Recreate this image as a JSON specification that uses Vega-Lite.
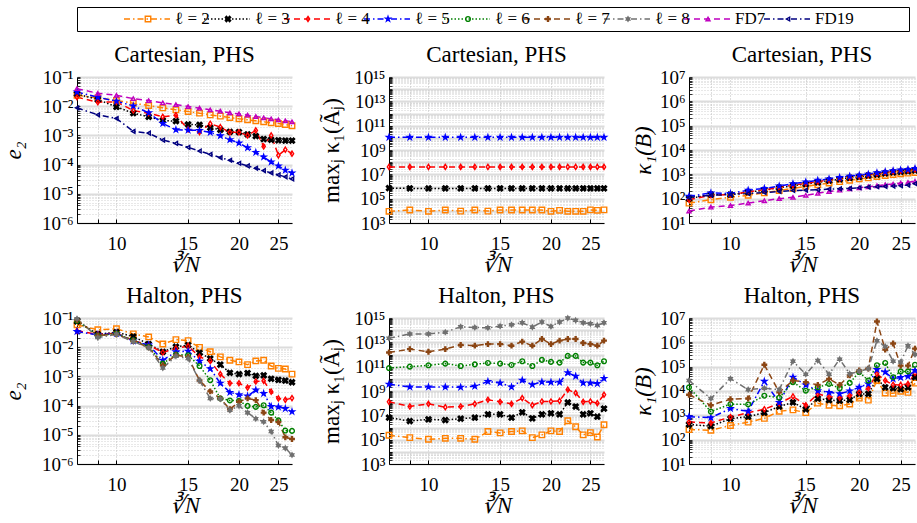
{
"$schema":"https://vega.github.io/schema/vega-lite/v6.json",
"background":"white",
"padding":{"left":2,"right":2,"top":6,"bottom":2},
"spacing":12,
"config":{
 "font":"Liberation Serif",
 "view":{"stroke":null},
 "axis":{"labelFont":"Liberation Serif","labelFontSize":19,"titleFont":"Liberation Serif","titleFontSize":23,"titleFontWeight":"normal","labelColor":"black","titleColor":"black","domainColor":"black","tickColor":"black","labelOverlap":false,"labelFlush":false},
 "title":{"font":"Liberation Serif","fontSize":23,"fontWeight":"normal","color":"black","offset":1}
},
"datasets":{
"leg":[{"s":"ℓ = 2"},{"s":"ℓ = 3"},{"s":"ℓ = 4"},{"s":"ℓ = 5"},{"s":"ℓ = 6"},{"s":"ℓ = 7"},{"s":"ℓ = 8"},{"s":"FD7"},{"s":"FD19"}],
"p1":[
{"s":"ℓ = 2","n":8,"v":0.0237},{"s":"ℓ = 2","n":9,"v":0.0192},{"s":"ℓ = 2","n":10,"v":0.0156},{"s":"ℓ = 2","n":11,"v":0.01265},{"s":"ℓ = 2","n":12,"v":0.01054},{"s":"ℓ = 2","n":13,"v":0.00878},{"s":"ℓ = 2","n":14,"v":0.0075},{"s":"ℓ = 2","n":15,"v":0.00658},{"s":"ℓ = 2","n":16,"v":0.00577},{"s":"ℓ = 2","n":17,"v":0.00506},{"s":"ℓ = 2","n":18,"v":0.00456},{"s":"ℓ = 2","n":19,"v":0.00411},{"s":"ℓ = 2","n":20,"v":0.0037},{"s":"ℓ = 2","n":21,"v":0.00342},{"s":"ℓ = 2","n":22,"v":0.00316},{"s":"ℓ = 2","n":23,"v":0.00292},{"s":"ℓ = 2","n":24,"v":0.0027},{"s":"ℓ = 2","n":25,"v":0.00256},{"s":"ℓ = 2","n":26,"v":0.00237},{"s":"ℓ = 2","n":27,"v":0.00214},
{"s":"ℓ = 3","n":8,"v":0.0263},{"s":"ℓ = 3","n":9,"v":0.01687},{"s":"ℓ = 3","n":10,"v":0.0095},{"s":"ℓ = 3","n":11,"v":0.00577},{"s":"ℓ = 3","n":12,"v":0.00433},{"s":"ℓ = 3","n":13,"v":0.00324},{"s":"ℓ = 3","n":14,"v":0.00308},{"s":"ℓ = 3","n":15,"v":0.00237},{"s":"ℓ = 3","n":16,"v":0.00231},{"s":"ℓ = 3","n":17,"v":0.00183},{"s":"ℓ = 3","n":18,"v":0.00156},{"s":"ℓ = 3","n":19,"v":0.00133},{"s":"ℓ = 3","n":20,"v":0.0013},{"s":"ℓ = 3","n":21,"v":0.00108},{"s":"ℓ = 3","n":22,"v":0.00095},{"s":"ℓ = 3","n":23,"v":0.00075},{"s":"ℓ = 3","n":24,"v":0.00071},{"s":"ℓ = 3","n":25,"v":0.00068},{"s":"ℓ = 3","n":26,"v":0.00066},{"s":"ℓ = 3","n":27,"v":0.00066},
{"s":"ℓ = 4","n":8,"v":0.0203},{"s":"ℓ = 4","n":9,"v":0.01369},{"s":"ℓ = 4","n":10,"v":0.0141},{"s":"ℓ = 4","n":11,"v":0.00711},{"s":"ℓ = 4","n":12,"v":0.00577},{"s":"ℓ = 4","n":13,"v":0.00433},{"s":"ℓ = 4","n":14,"v":0.00493},{"s":"ℓ = 4","n":15,"v":0.0016},{"s":"ℓ = 4","n":16,"v":0.0013},{"s":"ℓ = 4","n":17,"v":0.0025},{"s":"ℓ = 4","n":18,"v":0.00192},{"s":"ℓ = 4","n":19,"v":0.00127},{"s":"ℓ = 4","n":20,"v":0.00127},{"s":"ℓ = 4","n":21,"v":0.001},{"s":"ℓ = 4","n":22,"v":0.00148},{"s":"ℓ = 4","n":23,"v":0.00042},{"s":"ℓ = 4","n":24,"v":0.001},{"s":"ℓ = 4","n":25,"v":0.000208},{"s":"ℓ = 4","n":26,"v":0.000325},{"s":"ℓ = 4","n":27,"v":0.000237},
{"s":"ℓ = 5","n":8,"v":0.0308},{"s":"ℓ = 5","n":9,"v":0.0203},{"s":"ℓ = 5","n":10,"v":0.0148},{"s":"ℓ = 5","n":11,"v":0.01025},{"s":"ℓ = 5","n":12,"v":0.00593},{"s":"ℓ = 5","n":13,"v":0.00256},{"s":"ℓ = 5","n":14,"v":0.00156},{"s":"ℓ = 5","n":15,"v":0.00152},{"s":"ℓ = 5","n":16,"v":0.00148},{"s":"ℓ = 5","n":17,"v":0.00127},{"s":"ℓ = 5","n":18,"v":0.00097},{"s":"ℓ = 5","n":19,"v":0.00071},{"s":"ℓ = 5","n":20,"v":0.000548},{"s":"ℓ = 5","n":21,"v":0.00038},{"s":"ℓ = 5","n":22,"v":0.000263},{"s":"ℓ = 5","n":23,"v":0.000182},{"s":"ℓ = 5","n":24,"v":0.000123},{"s":"ℓ = 5","n":25,"v":0.00009},{"s":"ℓ = 5","n":26,"v":0.000064},{"s":"ℓ = 5","n":27,"v":0.000052},
{"s":"FD7","n":8,"v":0.04},{"s":"FD7","n":9,"v":0.0277},{"s":"FD7","n":10,"v":0.0237},{"s":"FD7","n":11,"v":0.0182},{"s":"FD7","n":12,"v":0.0156},{"s":"FD7","n":13,"v":0.013},{"s":"FD7","n":14,"v":0.0114},{"s":"FD7","n":15,"v":0.00975},{"s":"FD7","n":16,"v":0.00855},{"s":"FD7","n":17,"v":0.0075},{"s":"FD7","n":18,"v":0.00676},{"s":"FD7","n":19,"v":0.00593},{"s":"FD7","n":20,"v":0.00548},{"s":"FD7","n":21,"v":0.00493},{"s":"FD7","n":22,"v":0.00444},{"s":"FD7","n":23,"v":0.004},{"s":"FD7","n":24,"v":0.0037},{"s":"FD7","n":25,"v":0.00342},{"s":"FD7","n":26,"v":0.00316},{"s":"FD7","n":27,"v":0.00292},
{"s":"FD19","n":8,"v":0.00877},{"s":"FD19","n":9,"v":0.00507},{"s":"FD19","n":10,"v":0.0038},{"s":"FD19","n":11,"v":0.00137},{"s":"FD19","n":12,"v":0.0012},{"s":"FD19","n":13,"v":0.000693},{"s":"FD19","n":14,"v":0.000533},{"s":"FD19","n":15,"v":0.00039},{"s":"FD19","n":16,"v":0.000292},{"s":"FD19","n":17,"v":0.000225},{"s":"FD19","n":18,"v":0.000173},{"s":"FD19","n":19,"v":0.000141},{"s":"FD19","n":20,"v":0.000111},{"s":"FD19","n":21,"v":0.00009},{"s":"FD19","n":22,"v":0.000075},{"s":"FD19","n":23,"v":0.0000624},{"s":"FD19","n":24,"v":0.000052},{"s":"FD19","n":25,"v":0.0000444},{"s":"FD19","n":26,"v":0.000038},{"s":"FD19","n":27,"v":0.0000324}
],
"p2":[
{"s":"ℓ = 2","n":8,"v":9100},{"s":"ℓ = 2","n":9,"v":11700},{"s":"ℓ = 2","n":10,"v":9100},{"s":"ℓ = 2","n":11,"v":11700},{"s":"ℓ = 2","n":12,"v":9500},{"s":"ℓ = 2","n":13,"v":11700},{"s":"ℓ = 2","n":14,"v":9500},{"s":"ℓ = 2","n":15,"v":11700},{"s":"ℓ = 2","n":16,"v":11700},{"s":"ℓ = 2","n":17,"v":11700},{"s":"ℓ = 2","n":18,"v":11700},{"s":"ℓ = 2","n":19,"v":11700},{"s":"ℓ = 2","n":20,"v":9100},{"s":"ℓ = 2","n":21,"v":11000},{"s":"ℓ = 2","n":22,"v":9100},{"s":"ℓ = 2","n":23,"v":9100},{"s":"ℓ = 2","n":24,"v":9100},{"s":"ℓ = 2","n":25,"v":12000},{"s":"ℓ = 2","n":26,"v":11000},{"s":"ℓ = 2","n":27,"v":12000},
{"s":"ℓ = 3","n":8,"v":730000},{"s":"ℓ = 3","n":9,"v":700000},{"s":"ℓ = 3","n":10,"v":690000},{"s":"ℓ = 3","n":11,"v":700000},{"s":"ℓ = 3","n":12,"v":700000},{"s":"ℓ = 3","n":13,"v":700000},{"s":"ℓ = 3","n":14,"v":700000},{"s":"ℓ = 3","n":15,"v":700000},{"s":"ℓ = 3","n":16,"v":700000},{"s":"ℓ = 3","n":17,"v":700000},{"s":"ℓ = 3","n":18,"v":700000},{"s":"ℓ = 3","n":19,"v":700000},{"s":"ℓ = 3","n":20,"v":700000},{"s":"ℓ = 3","n":21,"v":700000},{"s":"ℓ = 3","n":22,"v":700000},{"s":"ℓ = 3","n":23,"v":700000},{"s":"ℓ = 3","n":24,"v":700000},{"s":"ℓ = 3","n":25,"v":700000},{"s":"ℓ = 3","n":26,"v":700000},{"s":"ℓ = 3","n":27,"v":700000},
{"s":"ℓ = 4","n":8,"v":41000000},{"s":"ℓ = 4","n":9,"v":41000000},{"s":"ℓ = 4","n":10,"v":41000000},{"s":"ℓ = 4","n":11,"v":41000000},{"s":"ℓ = 4","n":12,"v":41000000},{"s":"ℓ = 4","n":13,"v":41000000},{"s":"ℓ = 4","n":14,"v":41000000},{"s":"ℓ = 4","n":15,"v":41000000},{"s":"ℓ = 4","n":16,"v":41000000},{"s":"ℓ = 4","n":17,"v":41000000},{"s":"ℓ = 4","n":18,"v":41000000},{"s":"ℓ = 4","n":19,"v":41000000},{"s":"ℓ = 4","n":20,"v":41000000},{"s":"ℓ = 4","n":21,"v":41000000},{"s":"ℓ = 4","n":22,"v":41000000},{"s":"ℓ = 4","n":23,"v":41000000},{"s":"ℓ = 4","n":24,"v":41000000},{"s":"ℓ = 4","n":25,"v":41000000},{"s":"ℓ = 4","n":26,"v":41000000},{"s":"ℓ = 4","n":27,"v":41000000},
{"s":"ℓ = 5","n":8,"v":11000000000},{"s":"ℓ = 5","n":9,"v":11000000000},{"s":"ℓ = 5","n":10,"v":11000000000},{"s":"ℓ = 5","n":11,"v":11000000000},{"s":"ℓ = 5","n":12,"v":11000000000},{"s":"ℓ = 5","n":13,"v":11000000000},{"s":"ℓ = 5","n":14,"v":11000000000},{"s":"ℓ = 5","n":15,"v":11000000000},{"s":"ℓ = 5","n":16,"v":11000000000},{"s":"ℓ = 5","n":17,"v":11000000000},{"s":"ℓ = 5","n":18,"v":11000000000},{"s":"ℓ = 5","n":19,"v":11000000000},{"s":"ℓ = 5","n":20,"v":11000000000},{"s":"ℓ = 5","n":21,"v":11000000000},{"s":"ℓ = 5","n":22,"v":11000000000},{"s":"ℓ = 5","n":23,"v":11000000000},{"s":"ℓ = 5","n":24,"v":11000000000},{"s":"ℓ = 5","n":25,"v":11000000000},{"s":"ℓ = 5","n":26,"v":11000000000},{"s":"ℓ = 5","n":27,"v":11000000000}
],
"p3":[
{"s":"ℓ = 2","n":8,"v":65.8},{"s":"ℓ = 2","n":9,"v":90.7},{"s":"ℓ = 2","n":10,"v":114},{"s":"ℓ = 2","n":11,"v":138},{"s":"ℓ = 2","n":12,"v":173},{"s":"ℓ = 2","n":13,"v":217},{"s":"ℓ = 2","n":14,"v":263},{"s":"ℓ = 2","n":15,"v":319},{"s":"ℓ = 2","n":16,"v":374},{"s":"ℓ = 2","n":17,"v":440},{"s":"ℓ = 2","n":18,"v":500},{"s":"ℓ = 2","n":19,"v":569},{"s":"ℓ = 2","n":20,"v":647},{"s":"ℓ = 2","n":21,"v":713},{"s":"ℓ = 2","n":22,"v":811},{"s":"ℓ = 2","n":23,"v":894},{"s":"ℓ = 2","n":24,"v":984},{"s":"ℓ = 2","n":25,"v":1049},{"s":"ℓ = 2","n":26,"v":1119},{"s":"ℓ = 2","n":27,"v":1194},
{"s":"ℓ = 3","n":8,"v":100},{"s":"ℓ = 3","n":9,"v":147},{"s":"ℓ = 3","n":10,"v":147},{"s":"ℓ = 3","n":11,"v":184},{"s":"ℓ = 3","n":12,"v":224},{"s":"ℓ = 3","n":13,"v":281},{"s":"ℓ = 3","n":14,"v":340},{"s":"ℓ = 3","n":15,"v":399},{"s":"ℓ = 3","n":16,"v":469},{"s":"ℓ = 3","n":17,"v":551},{"s":"ℓ = 3","n":18,"v":627},{"s":"ℓ = 3","n":19,"v":713},{"s":"ℓ = 3","n":20,"v":785},{"s":"ℓ = 3","n":21,"v":894},{"s":"ℓ = 3","n":22,"v":984},{"s":"ℓ = 3","n":23,"v":1084},{"s":"ℓ = 3","n":24,"v":1194},{"s":"ℓ = 3","n":25,"v":1274},{"s":"ℓ = 3","n":26,"v":1358},{"s":"ℓ = 3","n":27,"v":1449},
{"s":"ℓ = 4","n":8,"v":90.7},{"s":"ℓ = 4","n":9,"v":138},{"s":"ℓ = 4","n":10,"v":147},{"s":"ℓ = 4","n":11,"v":190},{"s":"ℓ = 4","n":12,"v":231},{"s":"ℓ = 4","n":13,"v":290},{"s":"ℓ = 4","n":14,"v":362},{"s":"ℓ = 4","n":15,"v":426},{"s":"ℓ = 4","n":16,"v":500},{"s":"ℓ = 4","n":17,"v":587},{"s":"ℓ = 4","n":18,"v":668},{"s":"ℓ = 4","n":19,"v":760},{"s":"ℓ = 4","n":20,"v":837},{"s":"ℓ = 4","n":21,"v":952},{"s":"ℓ = 4","n":22,"v":1084},{"s":"ℓ = 4","n":23,"v":1194},{"s":"ℓ = 4","n":24,"v":1315},{"s":"ℓ = 4","n":25,"v":1403},{"s":"ℓ = 4","n":26,"v":1496},{"s":"ℓ = 4","n":27,"v":1596},
{"s":"ℓ = 5","n":8,"v":125},{"s":"ℓ = 5","n":9,"v":173},{"s":"ℓ = 5","n":10,"v":162},{"s":"ℓ = 5","n":11,"v":224},{"s":"ℓ = 5","n":12,"v":263},{"s":"ℓ = 5","n":13,"v":329},{"s":"ℓ = 5","n":14,"v":412},{"s":"ℓ = 5","n":15,"v":484},{"s":"ℓ = 5","n":16,"v":569},{"s":"ℓ = 5","n":17,"v":647},{"s":"ℓ = 5","n":18,"v":736},{"s":"ℓ = 5","n":19,"v":837},{"s":"ℓ = 5","n":20,"v":923},{"s":"ℓ = 5","n":21,"v":1017},{"s":"ℓ = 5","n":22,"v":1156},{"s":"ℓ = 5","n":23,"v":1274},{"s":"ℓ = 5","n":24,"v":1403},{"s":"ℓ = 5","n":25,"v":1496},{"s":"ℓ = 5","n":26,"v":1596},{"s":"ℓ = 5","n":27,"v":1758},
{"s":"FD7","n":8,"v":31},{"s":"FD7","n":9,"v":44.7},{"s":"FD7","n":10,"v":52.5},{"s":"FD7","n":11,"v":65.8},{"s":"FD7","n":12,"v":82.4},{"s":"FD7","n":13,"v":100},{"s":"FD7","n":14,"v":114},{"s":"FD7","n":15,"v":138},{"s":"FD7","n":16,"v":167},{"s":"FD7","n":17,"v":197},{"s":"FD7","n":18,"v":224},{"s":"FD7","n":19,"v":255},{"s":"FD7","n":20,"v":281},{"s":"FD7","n":21,"v":309},{"s":"FD7","n":22,"v":340},{"s":"FD7","n":23,"v":374},{"s":"FD7","n":24,"v":399},{"s":"FD7","n":25,"v":440},{"s":"FD7","n":26,"v":469},{"s":"FD7","n":27,"v":516},
{"s":"FD19","n":8,"v":114},{"s":"FD19","n":9,"v":138},{"s":"FD19","n":10,"v":147},{"s":"FD19","n":11,"v":162},{"s":"FD19","n":12,"v":179},{"s":"FD19","n":13,"v":197},{"s":"FD19","n":14,"v":217},{"s":"FD19","n":15,"v":224},{"s":"FD19","n":16,"v":231},{"s":"FD19","n":17,"v":247},{"s":"FD19","n":18,"v":255},{"s":"FD19","n":19,"v":263},{"s":"FD19","n":20,"v":281},{"s":"FD19","n":21,"v":299},{"s":"FD19","n":22,"v":309},{"s":"FD19","n":23,"v":319},{"s":"FD19","n":24,"v":329},{"s":"FD19","n":25,"v":340},{"s":"FD19","n":26,"v":362},{"s":"FD19","n":27,"v":412}
],
"p4":[
{"s":"ℓ = 2","n":8,"v":0.0587},{"s":"ℓ = 2","n":9,"v":0.0394},{"s":"ℓ = 2","n":10,"v":0.0427},{"s":"ℓ = 2","n":11,"v":0.0286},{"s":"ℓ = 2","n":12,"v":0.0225},{"s":"ℓ = 2","n":13,"v":0.01285},{"s":"ℓ = 2","n":14,"v":0.01815},{"s":"ℓ = 2","n":15,"v":0.0168},{"s":"ℓ = 2","n":16,"v":0.00984},{"s":"ℓ = 2","n":17,"v":0.00697},{"s":"ℓ = 2","n":18,"v":0.00467},{"s":"ℓ = 2","n":19,"v":0.00357},{"s":"ℓ = 2","n":20,"v":0.00313},{"s":"ℓ = 2","n":21,"v":0.00253},{"s":"ℓ = 2","n":22,"v":0.00339},{"s":"ℓ = 2","n":23,"v":0.00357},{"s":"ℓ = 2","n":24,"v":0.00227},{"s":"ℓ = 2","n":25,"v":0.00188},{"s":"ℓ = 2","n":26,"v":0.00179},{"s":"ℓ = 2","n":27,"v":0.0012},
{"s":"ℓ = 3","n":8,"v":0.0766},{"s":"ℓ = 3","n":9,"v":0.0278},{"s":"ℓ = 3","n":10,"v":0.0326},{"s":"ℓ = 3","n":11,"v":0.0231},{"s":"ℓ = 3","n":12,"v":0.01285},{"s":"ℓ = 3","n":13,"v":0.00697},{"s":"ℓ = 3","n":14,"v":0.01038},{"s":"ℓ = 3","n":15,"v":0.01186},{"s":"ℓ = 3","n":16,"v":0.00643},{"s":"ℓ = 3","n":17,"v":0.00408},{"s":"ℓ = 3","n":18,"v":0.00253},{"s":"ℓ = 3","n":19,"v":0.00133},{"s":"ℓ = 3","n":20,"v":0.0012},{"s":"ℓ = 3","n":21,"v":0.0013},{"s":"ℓ = 3","n":22,"v":0.00105},{"s":"ℓ = 3","n":23,"v":0.00108},{"s":"ℓ = 3","n":24,"v":0.00083},{"s":"ℓ = 3","n":25,"v":0.00076},{"s":"ℓ = 3","n":26,"v":0.00072},{"s":"ℓ = 3","n":27,"v":0.00063},
{"s":"ℓ = 4","n":8,"v":0.0363},{"s":"ℓ = 4","n":9,"v":0.0278},{"s":"ℓ = 4","n":10,"v":0.0302},{"s":"ℓ = 4","n":11,"v":0.0168},{"s":"ℓ = 4","n":12,"v":0.01186},{"s":"ℓ = 4","n":13,"v":0.0066},{"s":"ℓ = 4","n":14,"v":0.00908},{"s":"ℓ = 4","n":15,"v":0.01094},{"s":"ℓ = 4","n":16,"v":0.00467},{"s":"ℓ = 4","n":17,"v":0.00339},{"s":"ℓ = 4","n":18,"v":0.0012},{"s":"ℓ = 4","n":19,"v":0.000583},{"s":"ℓ = 4","n":20,"v":0.000583},{"s":"ℓ = 4","n":21,"v":0.000413},{"s":"ℓ = 4","n":22,"v":0.000667},{"s":"ℓ = 4","n":23,"v":0.000703},{"s":"ℓ = 4","n":24,"v":0.0003},{"s":"ℓ = 4","n":25,"v":0.000176},{"s":"ℓ = 4","n":26,"v":0.000158},{"s":"ℓ = 4","n":27,"v":0.000181},
{"s":"ℓ = 5","n":8,"v":0.0344},{"s":"ℓ = 5","n":9,"v":0.0264},{"s":"ℓ = 5","n":10,"v":0.0294},{"s":"ℓ = 5","n":11,"v":0.0163},{"s":"ℓ = 5","n":12,"v":0.01186},{"s":"ℓ = 5","n":13,"v":0.00357},{"s":"ℓ = 5","n":14,"v":0.00697},{"s":"ℓ = 5","n":15,"v":0.00735},{"s":"ℓ = 5","n":16,"v":0.0033},{"s":"ℓ = 5","n":17,"v":0.00184},{"s":"ℓ = 5","n":18,"v":0.000583},{"s":"ℓ = 5","n":19,"v":0.000284},{"s":"ℓ = 5","n":20,"v":0.000236},{"s":"ℓ = 5","n":21,"v":0.000212},{"s":"ℓ = 5","n":22,"v":0.000343},{"s":"ℓ = 5","n":23,"v":0.000262},{"s":"ℓ = 5","n":24,"v":0.000093},{"s":"ℓ = 5","n":25,"v":0.0000904},{"s":"ℓ = 5","n":26,"v":0.0000791},{"s":"ℓ = 5","n":27,"v":0.0000622},
{"s":"ℓ = 6","n":8,"v":0.0807},{"s":"ℓ = 6","n":9,"v":0.025},{"s":"ℓ = 6","n":10,"v":0.0294},{"s":"ℓ = 6","n":11,"v":0.0172},{"s":"ℓ = 6","n":12,"v":0.01038},{"s":"ℓ = 6","n":13,"v":0.00274},{"s":"ℓ = 6","n":14,"v":0.00562},{"s":"ℓ = 6","n":15,"v":0.00533},{"s":"ℓ = 6","n":16,"v":0.00227},{"s":"ℓ = 6","n":17,"v":0.00074},{"s":"ℓ = 6","n":18,"v":0.000176},{"s":"ℓ = 6","n":19,"v":0.00015},{"s":"ℓ = 6","n":20,"v":0.000146},{"s":"ℓ = 6","n":21,"v":0.000098},{"s":"ℓ = 6","n":22,"v":0.0000904},{"s":"ℓ = 6","n":23,"v":0.000103},{"s":"ℓ = 6","n":24,"v":0.0000574},{"s":"ℓ = 6","n":25,"v":0.0000311},{"s":"ℓ = 6","n":26,"v":0.000014},{"s":"ℓ = 6","n":27,"v":0.0000136},
{"s":"ℓ = 7","n":8,"v":0.0853},{"s":"ℓ = 7","n":9,"v":0.025},{"s":"ℓ = 7","n":10,"v":0.0278},{"s":"ℓ = 7","n":11,"v":0.0163},{"s":"ℓ = 7","n":12,"v":0.00984},{"s":"ℓ = 7","n":13,"v":0.0024},{"s":"ℓ = 7","n":14,"v":0.00533},{"s":"ℓ = 7","n":15,"v":0.00467},{"s":"ℓ = 7","n":16,"v":0.000723},{"s":"ℓ = 7","n":17,"v":0.000308},{"s":"ℓ = 7","n":18,"v":0.000176},{"s":"ℓ = 7","n":19,"v":0.000075},{"s":"ℓ = 7","n":20,"v":0.000135},{"s":"ℓ = 7","n":21,"v":0.000176},{"s":"ℓ = 7","n":22,"v":0.000154},{"s":"ℓ = 7","n":23,"v":0.0000574},{"s":"ℓ = 7","n":24,"v":0.000032},{"s":"ℓ = 7","n":25,"v":0.0000272},{"s":"ℓ = 7","n":26,"v":0.0000082},{"s":"ℓ = 7","n":27,"v":0.0000072},
{"s":"ℓ = 8","n":8,"v":0.0948},{"s":"ℓ = 8","n":9,"v":0.0213},{"s":"ℓ = 8","n":10,"v":0.0278},{"s":"ℓ = 8","n":11,"v":0.0155},{"s":"ℓ = 8","n":12,"v":0.00957},{"s":"ℓ = 8","n":13,"v":0.00194},{"s":"ℓ = 8","n":14,"v":0.00492},{"s":"ℓ = 8","n":15,"v":0.00408},{"s":"ℓ = 8","n":16,"v":0.000723},{"s":"ℓ = 8","n":17,"v":0.000176},{"s":"ℓ = 8","n":18,"v":0.000167},{"s":"ℓ = 8","n":19,"v":0.0000692},{"s":"ℓ = 8","n":20,"v":0.000098},{"s":"ℓ = 8","n":21,"v":0.0000574},{"s":"ℓ = 8","n":22,"v":0.0000356},{"s":"ℓ = 8","n":23,"v":0.000028},{"s":"ℓ = 8","n":24,"v":0.0000129},{"s":"ℓ = 8","n":25,"v":0.00000433},{"s":"ℓ = 8","n":26,"v":0.0000035},{"s":"ℓ = 8","n":27,"v":0.00000205}
],
"p5":[
{"s":"ℓ = 2","n":8,"v":230000},{"s":"ℓ = 2","n":9,"v":147000},{"s":"ℓ = 2","n":10,"v":107000},{"s":"ℓ = 2","n":11,"v":129000},{"s":"ℓ = 2","n":12,"v":129000},{"s":"ℓ = 2","n":13,"v":107000},{"s":"ℓ = 2","n":14,"v":464000},{"s":"ℓ = 2","n":15,"v":360000},{"s":"ℓ = 2","n":16,"v":464000},{"s":"ℓ = 2","n":17,"v":530000},{"s":"ℓ = 2","n":18,"v":147000},{"s":"ℓ = 2","n":19,"v":247000},{"s":"ℓ = 2","n":20,"v":530000},{"s":"ℓ = 2","n":21,"v":464000},{"s":"ℓ = 2","n":22,"v":3600000},{"s":"ℓ = 2","n":23,"v":1140000},{"s":"ℓ = 2","n":24,"v":247000},{"s":"ℓ = 2","n":25,"v":380000},{"s":"ℓ = 2","n":26,"v":167000},{"s":"ℓ = 2","n":27,"v":1670000},
{"s":"ℓ = 3","n":8,"v":6400000},{"s":"ℓ = 3","n":9,"v":3400000},{"s":"ℓ = 3","n":10,"v":4640000},{"s":"ℓ = 3","n":11,"v":4080000},{"s":"ℓ = 3","n":12,"v":5300000},{"s":"ℓ = 3","n":13,"v":6400000},{"s":"ℓ = 3","n":14,"v":12000000},{"s":"ℓ = 3","n":15,"v":12000000},{"s":"ℓ = 3","n":16,"v":6400000},{"s":"ℓ = 3","n":17,"v":17800000},{"s":"ℓ = 3","n":18,"v":5600000},{"s":"ℓ = 3","n":19,"v":12000000},{"s":"ℓ = 3","n":20,"v":14700000},{"s":"ℓ = 3","n":21,"v":12000000},{"s":"ℓ = 3","n":22,"v":114000000},{"s":"ℓ = 3","n":23,"v":53000000},{"s":"ℓ = 3","n":24,"v":12000000},{"s":"ℓ = 3","n":25,"v":14700000},{"s":"ℓ = 3","n":26,"v":7700000},{"s":"ℓ = 3","n":27,"v":36000000},
{"s":"ℓ = 4","n":8,"v":129000000},{"s":"ℓ = 4","n":9,"v":53000000},{"s":"ℓ = 4","n":10,"v":88000000},{"s":"ℓ = 4","n":11,"v":46400000},{"s":"ℓ = 4","n":12,"v":53000000},{"s":"ℓ = 4","n":13,"v":88000000},{"s":"ℓ = 4","n":14,"v":190000000},{"s":"ℓ = 4","n":15,"v":129000000},{"s":"ℓ = 4","n":16,"v":88000000},{"s":"ℓ = 4","n":17,"v":260000000},{"s":"ℓ = 4","n":18,"v":68000000},{"s":"ℓ = 4","n":19,"v":138000000},{"s":"ℓ = 4","n":20,"v":138000000},{"s":"ℓ = 4","n":21,"v":155000000},{"s":"ℓ = 4","n":22,"v":1290000000},{"s":"ℓ = 4","n":23,"v":680000000},{"s":"ℓ = 4","n":24,"v":129000000},{"s":"ℓ = 4","n":25,"v":138000000},{"s":"ℓ = 4","n":26,"v":100000000},{"s":"ℓ = 4","n":27,"v":490000000},
{"s":"ℓ = 5","n":8,"v":3600000000},{"s":"ℓ = 5","n":9,"v":2150000000},{"s":"ℓ = 5","n":10,"v":2150000000},{"s":"ℓ = 5","n":11,"v":2150000000},{"s":"ℓ = 5","n":12,"v":2030000000},{"s":"ℓ = 5","n":13,"v":2470000000},{"s":"ℓ = 5","n":14,"v":6000000000},{"s":"ℓ = 5","n":15,"v":4640000000},{"s":"ℓ = 5","n":16,"v":2150000000},{"s":"ℓ = 5","n":17,"v":7700000000},{"s":"ℓ = 5","n":18,"v":3360000000},{"s":"ℓ = 5","n":19,"v":5600000000},{"s":"ℓ = 5","n":20,"v":5300000000},{"s":"ℓ = 5","n":21,"v":5300000000},{"s":"ℓ = 5","n":22,"v":31600000000},{"s":"ℓ = 5","n":23,"v":16700000000},{"s":"ℓ = 5","n":24,"v":4640000000},{"s":"ℓ = 5","n":25,"v":4640000000},{"s":"ℓ = 5","n":26,"v":4080000000},{"s":"ℓ = 5","n":27,"v":10700000000},
{"s":"ℓ = 6","n":8,"v":77000000000},{"s":"ℓ = 6","n":9,"v":100000000000},{"s":"ℓ = 6","n":10,"v":129000000000},{"s":"ℓ = 6","n":11,"v":178000000000},{"s":"ℓ = 6","n":12,"v":114000000000},{"s":"ℓ = 6","n":13,"v":155000000000},{"s":"ℓ = 6","n":14,"v":203000000000},{"s":"ℓ = 6","n":15,"v":178000000000},{"s":"ℓ = 6","n":16,"v":138000000000},{"s":"ℓ = 6","n":17,"v":278000000000},{"s":"ℓ = 6","n":18,"v":114000000000},{"s":"ℓ = 6","n":19,"v":360000000000},{"s":"ℓ = 6","n":20,"v":247000000000},{"s":"ℓ = 6","n":21,"v":215000000000},{"s":"ℓ = 6","n":22,"v":770000000000},{"s":"ℓ = 6","n":23,"v":770000000000},{"s":"ℓ = 6","n":24,"v":215000000000},{"s":"ℓ = 6","n":25,"v":215000000000},{"s":"ℓ = 6","n":26,"v":129000000000},{"s":"ℓ = 6","n":27,"v":278000000000},
{"s":"ℓ = 7","n":8,"v":1470000000000},{"s":"ℓ = 7","n":9,"v":2780000000000},{"s":"ℓ = 7","n":10,"v":1670000000000},{"s":"ℓ = 7","n":11,"v":2780000000000},{"s":"ℓ = 7","n":12,"v":6000000000000},{"s":"ℓ = 7","n":13,"v":5300000000000},{"s":"ℓ = 7","n":14,"v":7200000000000},{"s":"ℓ = 7","n":15,"v":7200000000000},{"s":"ℓ = 7","n":16,"v":5300000000000},{"s":"ℓ = 7","n":17,"v":11400000000000},{"s":"ℓ = 7","n":18,"v":5300000000000},{"s":"ℓ = 7","n":19,"v":19000000000000},{"s":"ℓ = 7","n":20,"v":7200000000000},{"s":"ℓ = 7","n":21,"v":13800000000000},{"s":"ℓ = 7","n":22,"v":19000000000000},{"s":"ℓ = 7","n":23,"v":19000000000000},{"s":"ℓ = 7","n":24,"v":8800000000000},{"s":"ℓ = 7","n":25,"v":7200000000000},{"s":"ℓ = 7","n":26,"v":5300000000000},{"s":"ℓ = 7","n":27,"v":13800000000000},
{"s":"ℓ = 8","n":8,"v":21500000000000},{"s":"ℓ = 8","n":9,"v":49000000000000},{"s":"ℓ = 8","n":10,"v":49000000000000},{"s":"ℓ = 8","n":11,"v":68000000000000},{"s":"ℓ = 8","n":12,"v":190000000000000},{"s":"ℓ = 8","n":13,"v":167000000000000},{"s":"ℓ = 8","n":14,"v":155000000000000},{"s":"ℓ = 8","n":15,"v":215000000000000},{"s":"ℓ = 8","n":16,"v":278000000000000},{"s":"ℓ = 8","n":17,"v":408000000000000},{"s":"ℓ = 8","n":18,"v":178000000000000},{"s":"ℓ = 8","n":19,"v":464000000000000},{"s":"ℓ = 8","n":20,"v":203000000000000},{"s":"ℓ = 8","n":21,"v":464000000000000},{"s":"ℓ = 8","n":22,"v":980000000000000},{"s":"ℓ = 8","n":23,"v":640000000000000},{"s":"ℓ = 8","n":24,"v":408000000000000},{"s":"ℓ = 8","n":25,"v":336000000000000},{"s":"ℓ = 8","n":26,"v":247000000000000},{"s":"ℓ = 8","n":27,"v":408000000000000}
],
"p6":[
{"s":"ℓ = 2","n":8,"v":260},{"s":"ℓ = 2","n":9,"v":245},{"s":"ℓ = 2","n":10,"v":380},{"s":"ℓ = 2","n":11,"v":527},{"s":"ℓ = 2","n":12,"v":750},{"s":"ℓ = 2","n":13,"v":1470},{"s":"ℓ = 2","n":14,"v":1670},{"s":"ℓ = 2","n":15,"v":1290},{"s":"ℓ = 2","n":16,"v":3160},{"s":"ℓ = 2","n":17,"v":2600},{"s":"ℓ = 2","n":18,"v":2470},{"s":"ℓ = 2","n":19,"v":2900},{"s":"ℓ = 2","n":20,"v":5100},{"s":"ℓ = 2","n":21,"v":4200},{"s":"ℓ = 2","n":22,"v":27000},{"s":"ℓ = 2","n":23,"v":8300},{"s":"ℓ = 2","n":24,"v":8000},{"s":"ℓ = 2","n":25,"v":9800},{"s":"ℓ = 2","n":26,"v":8800},{"s":"ℓ = 2","n":27,"v":21000},
{"s":"ℓ = 3","n":8,"v":420},{"s":"ℓ = 3","n":9,"v":360},{"s":"ℓ = 3","n":10,"v":730},{"s":"ℓ = 3","n":11,"v":880},{"s":"ℓ = 3","n":12,"v":1290},{"s":"ℓ = 3","n":13,"v":2300},{"s":"ℓ = 3","n":14,"v":3400},{"s":"ℓ = 3","n":15,"v":1780},{"s":"ℓ = 3","n":16,"v":4900},{"s":"ℓ = 3","n":17,"v":4200},{"s":"ℓ = 3","n":18,"v":4000},{"s":"ℓ = 3","n":19,"v":4300},{"s":"ℓ = 3","n":20,"v":7600},{"s":"ℓ = 3","n":21,"v":7600},{"s":"ℓ = 3","n":22,"v":31600},{"s":"ℓ = 3","n":23,"v":14200},{"s":"ℓ = 3","n":24,"v":13000},{"s":"ℓ = 3","n":25,"v":12000},{"s":"ℓ = 3","n":26,"v":14200},{"s":"ℓ = 3","n":27,"v":37000},
{"s":"ℓ = 4","n":8,"v":527},{"s":"ℓ = 4","n":9,"v":490},{"s":"ℓ = 4","n":10,"v":850},{"s":"ℓ = 4","n":11,"v":1290},{"s":"ℓ = 4","n":12,"v":1780},{"s":"ℓ = 4","n":13,"v":3100},{"s":"ℓ = 4","n":14,"v":6000},{"s":"ℓ = 4","n":15,"v":2600},{"s":"ℓ = 4","n":16,"v":7600},{"s":"ℓ = 4","n":17,"v":5800},{"s":"ℓ = 4","n":18,"v":5300},{"s":"ℓ = 4","n":19,"v":6400},{"s":"ℓ = 4","n":20,"v":8800},{"s":"ℓ = 4","n":21,"v":13000},{"s":"ℓ = 4","n":22,"v":51000},{"s":"ℓ = 4","n":23,"v":27000},{"s":"ℓ = 4","n":24,"v":18000},{"s":"ℓ = 4","n":25,"v":17800},{"s":"ℓ = 4","n":26,"v":19600},{"s":"ℓ = 4","n":27,"v":55000},
{"s":"ℓ = 5","n":8,"v":880},{"s":"ℓ = 5","n":9,"v":800},{"s":"ℓ = 5","n":10,"v":1900},{"s":"ℓ = 5","n":11,"v":1470},{"s":"ℓ = 5","n":12,"v":25000},{"s":"ℓ = 5","n":13,"v":3400},{"s":"ℓ = 5","n":14,"v":37000},{"s":"ℓ = 5","n":15,"v":17800},{"s":"ℓ = 5","n":16,"v":10300},{"s":"ℓ = 5","n":17,"v":8800},{"s":"ℓ = 5","n":18,"v":7700},{"s":"ℓ = 5","n":19,"v":10000},{"s":"ℓ = 5","n":20,"v":14200},{"s":"ℓ = 5","n":21,"v":19600},{"s":"ℓ = 5","n":22,"v":77000},{"s":"ℓ = 5","n":23,"v":60000},{"s":"ℓ = 5","n":24,"v":31600},{"s":"ℓ = 5","n":25,"v":36000},{"s":"ℓ = 5","n":26,"v":40000},{"s":"ℓ = 5","n":27,"v":70000},
{"s":"ℓ = 6","n":8,"v":14200},{"s":"ℓ = 6","n":9,"v":1420},{"s":"ℓ = 6","n":10,"v":2900},{"s":"ℓ = 6","n":11,"v":2800},{"s":"ℓ = 6","n":12,"v":6400},{"s":"ℓ = 6","n":13,"v":5300},{"s":"ℓ = 6","n":14,"v":23000},{"s":"ℓ = 6","n":15,"v":10300},{"s":"ℓ = 6","n":16,"v":14200},{"s":"ℓ = 6","n":17,"v":19600},{"s":"ℓ = 6","n":18,"v":13000},{"s":"ℓ = 6","n":19,"v":21500},{"s":"ℓ = 6","n":20,"v":60000},{"s":"ℓ = 6","n":21,"v":27000},{"s":"ℓ = 6","n":22,"v":115000},{"s":"ℓ = 6","n":23,"v":142000},{"s":"ℓ = 6","n":24,"v":37000},{"s":"ℓ = 6","n":25,"v":64000},{"s":"ℓ = 6","n":26,"v":64000},{"s":"ℓ = 6","n":27,"v":120000},
{"s":"ℓ = 7","n":8,"v":7000},{"s":"ℓ = 7","n":9,"v":2600},{"s":"ℓ = 7","n":10,"v":4600},{"s":"ℓ = 7","n":11,"v":4900},{"s":"ℓ = 7","n":12,"v":120000},{"s":"ℓ = 7","n":13,"v":8800},{"s":"ℓ = 7","n":14,"v":27000},{"s":"ℓ = 7","n":15,"v":23000},{"s":"ℓ = 7","n":16,"v":17800},{"s":"ℓ = 7","n":17,"v":31600},{"s":"ℓ = 7","n":18,"v":17800},{"s":"ℓ = 7","n":19,"v":44000},{"s":"ℓ = 7","n":20,"v":70000},{"s":"ℓ = 7","n":21,"v":83000},{"s":"ℓ = 7","n":22,"v":7200000},{"s":"ℓ = 7","n":23,"v":500000},{"s":"ℓ = 7","n":24,"v":900000},{"s":"ℓ = 7","n":25,"v":110000},{"s":"ℓ = 7","n":26,"v":110000},{"s":"ℓ = 7","n":27,"v":550000},
{"s":"ℓ = 8","n":8,"v":27000},{"s":"ℓ = 8","n":9,"v":4900},{"s":"ℓ = 8","n":10,"v":32000},{"s":"ℓ = 8","n":11,"v":11400},{"s":"ℓ = 8","n":12,"v":13000},{"s":"ℓ = 8","n":13,"v":11400},{"s":"ℓ = 8","n":14,"v":167000},{"s":"ℓ = 8","n":15,"v":49000},{"s":"ℓ = 8","n":16,"v":178000},{"s":"ℓ = 8","n":17,"v":49000},{"s":"ℓ = 8","n":18,"v":203000},{"s":"ℓ = 8","n":19,"v":51000},{"s":"ℓ = 8","n":20,"v":64000},{"s":"ℓ = 8","n":21,"v":83000},{"s":"ℓ = 8","n":22,"v":1170000},{"s":"ℓ = 8","n":23,"v":680000},{"s":"ℓ = 8","n":24,"v":167000},{"s":"ℓ = 8","n":25,"v":155000},{"s":"ℓ = 8","n":26,"v":720000},{"s":"ℓ = 8","n":27,"v":316000}
]
},
"vconcat":[
{
 "width":832,"height":24,
 "data":{"name":"leg"},
 "view":{"stroke":"black","strokeWidth":1},
 "encoding":{"x":{"field":"s","type":"nominal","scale":{"type":"point","domain":["ℓ = 2","ℓ = 3","ℓ = 4","ℓ = 5","ℓ = 6","ℓ = 7","ℓ = 8","FD7","FD19"],"range":[31,751]},"axis":null}},
 "layer":[
  {"mark":{"type":"rule","strokeWidth":1.6,"xOffset":-24,"x2Offset":22},
   "encoding":{"x2":{"field":"s"},
    "stroke":{"field":"s","type":"nominal","legend":null,"scale":{"domain":["ℓ = 2","ℓ = 3","ℓ = 4","ℓ = 5","ℓ = 6","ℓ = 7","ℓ = 8","FD7","FD19"],"range":["#FF8000","#000000","#FF0000","#0000FF","#008000","#8B4513","#707070","#BF00BF","#000080"]}},
    "strokeDash":{"field":"s","type":"nominal","legend":null,"scale":{"domain":["ℓ = 2","ℓ = 3","ℓ = 4","ℓ = 5","ℓ = 6","ℓ = 7","ℓ = 8","FD7","FD19"],"range":[[6,3,1.5,3],[1.5,2],[6,4],[6,3,1.5,3],[1.5,2],[6,4],[6,3,1.5,3],[6,4],[6,3,1.5,3]]}}}},
  {"mark":{"type":"point","opacity":1,"strokeWidth":1.4},
   "encoding":{
    "shape":{"field":"s","type":"nominal","legend":null,"scale":{"domain":["ℓ = 2","ℓ = 3","ℓ = 4","ℓ = 5","ℓ = 6","ℓ = 7","ℓ = 8","FD7","FD19"],"range":["square","M-1,-0.6L-0.6,-1L0,-0.4L0.6,-1L1,-0.6L0.4,0L1,0.6L0.6,1L0,0.4L-0.6,1L-1,0.6L-0.4,0Z","M0,-1L0.65,0L0,1L-0.65,0Z","M0,-1L0.225,-0.309L0.951,-0.309L0.363,0.118L0.588,0.809L0,0.382L-0.588,0.809L-0.363,0.118L-0.951,-0.309L-0.225,-0.309Z","circle","M-1,-0.22H-0.22V-1H0.22V-0.22H1V0.22H0.22V1H-0.22V0.22H-1Z","M0,-1L0.289,-0.5L0.866,-0.5L0.577,0L0.866,0.5L0.289,0.5L0,1L-0.289,0.5L-0.866,0.5L-0.577,0L-0.866,-0.5L-0.289,-0.5Z","triangle-up","triangle-left"]}},
    "stroke":{"field":"s","type":"nominal","legend":null,"scale":{"domain":["ℓ = 2","ℓ = 3","ℓ = 4","ℓ = 5","ℓ = 6","ℓ = 7","ℓ = 8","FD7","FD19"],"range":["#FF8000","#000000","#FF0000","#0000FF","#008000","#8B4513","#707070","#BF00BF","#000080"]}},
    "fill":{"field":"s","type":"nominal","legend":null,"scale":{"domain":["ℓ = 2","ℓ = 3","ℓ = 4","ℓ = 5","ℓ = 6","ℓ = 7","ℓ = 8","FD7","FD19"],"range":["transparent","#000000","transparent","#0000FF","transparent","#8B4513","#707070","transparent","transparent"]}},
    "size":{"field":"s","type":"nominal","legend":null,"scale":{"domain":["ℓ = 2","ℓ = 3","ℓ = 4","ℓ = 5","ℓ = 6","ℓ = 7","ℓ = 8","FD7","FD19"],"range":[30,14,45,80,35,40,70,40,40]}}}},
  {"mark":{"type":"text","dx":27,"align":"left","baseline":"middle","font":"Liberation Serif","fontSize":17},
   "encoding":{"text":{"field":"s"}}}
 ]
},
{"spacing":9,"vconcat":[
{"hconcat":[
{
 "width":215,"height":146,"title":"Cartesian, PHS","data":{"name":"p1"},
 "encoding":{
  "x":{"field":"n","type":"quantitative","scale":{"type":"log","domain":[8,27],"nice":false,"zero":false},"axis":{"title":"∛N","titleFontStyle":"italic","values":[9,10,15,20,25],"labelExpr":"datum.value>=10 ? format(datum.value,'d') : ''","grid":true,"gridColor":"#a8a8a8","gridDash":[1,2],"gridWidth":0.8,"tickSize":-4,"labelPadding":15,"titlePadding":0}},
  "y":{"field":"v","type":"quantitative","scale":{"type":"log","domain":[0.000001,0.1],"nice":false},"axis":{"title":"e₂","titleFontStyle":"italic","titlePadding":16,"tickCount":50,"tickSize":-3,"tickWidth":0.8,"labelPadding":7,"labelExpr":"abs(log(datum.value)/LN10-round(log(datum.value)/LN10))<1e-6 ? '10'+['⁻⁶','⁻⁵','⁻⁴','⁻³','⁻²','⁻¹','⁰','¹','²','³','⁴','⁵','⁶','⁷','⁸','⁹','¹⁰','¹¹','¹²','¹³','¹⁴','¹⁵'][round(log(datum.value)/LN10)+6] : ''","grid":true,"gridColor":{"condition":{"test":"abs(log(datum.value)/LN10-round(log(datum.value)/LN10))<1e-6","value":"#dcdcdc"},"value":"#c4c4c4"},"gridDash":{"condition":{"test":"abs(log(datum.value)/LN10-round(log(datum.value)/LN10))<1e-6","value":[]},"value":[1,2]},"gridWidth":{"condition":{"test":"abs(log(datum.value)/LN10-round(log(datum.value)/LN10))<1e-6","value":1.8},"value":0.8}}}
 },
 "layer":[
  {"mark":{"type":"line","strokeWidth":1.5},"encoding":{
    "stroke":{"field":"s","type":"nominal","legend":null,"scale":{"domain":["ℓ = 2","ℓ = 3","ℓ = 4","ℓ = 5","ℓ = 6","ℓ = 7","ℓ = 8","FD7","FD19"],"range":["#FF8000","#000000","#FF0000","#0000FF","#008000","#8B4513","#707070","#BF00BF","#000080"]}},
    "strokeDash":{"field":"s","type":"nominal","legend":null,"scale":{"domain":["ℓ = 2","ℓ = 3","ℓ = 4","ℓ = 5","ℓ = 6","ℓ = 7","ℓ = 8","FD7","FD19"],"range":[[6,3,1.5,3],[1.5,2],[6,4],[6,3,1.5,3],[1.5,2],[6,4],[6,3,1.5,3],[6,4],[6,3,1.5,3]]}}}},
  {"mark":{"type":"point","opacity":1,"strokeWidth":1.4},"encoding":{
    "shape":{"field":"s","type":"nominal","legend":null},
    "stroke":{"field":"s","type":"nominal","legend":null},
    "fill":{"field":"s","type":"nominal","legend":null},
    "size":{"field":"s","type":"nominal","legend":null}}}
 ]
},
{
 "width":215,"height":146,"title":"Cartesian, PHS","data":{"name":"p2"},
 "encoding":{
  "x":{"field":"n","type":"quantitative","scale":{"type":"log","domain":[8,27],"nice":false,"zero":false},"axis":{"title":"∛N","titleFontStyle":"italic","values":[9,10,15,20,25],"labelExpr":"datum.value>=10 ? format(datum.value,'d') : ''","grid":true,"gridColor":"#a8a8a8","gridDash":[1,2],"gridWidth":0.8,"tickSize":-4,"labelPadding":15,"titlePadding":0}},
  "y":{"field":"v","type":"quantitative","scale":{"type":"log","domain":[1000,1000000000000000],"nice":false},"axis":{"title":"maxⱼ κ₁(Ãⱼ)","titlePadding":10,"tickCount":50,"tickSize":-3,"tickWidth":0.8,"labelPadding":7,"labelExpr":"abs(log(datum.value)/LN10-round(log(datum.value)/LN10))<1e-6 && round(log(datum.value)/LN10)%2==1 ? '10'+['⁻⁶','⁻⁵','⁻⁴','⁻³','⁻²','⁻¹','⁰','¹','²','³','⁴','⁵','⁶','⁷','⁸','⁹','¹⁰','¹¹','¹²','¹³','¹⁴','¹⁵'][round(log(datum.value)/LN10)+6] : ''","grid":true,"gridColor":{"condition":{"test":"abs(log(datum.value)/LN10-round(log(datum.value)/LN10))<1e-6","value":"#dcdcdc"},"value":"#c4c4c4"},"gridDash":{"condition":{"test":"abs(log(datum.value)/LN10-round(log(datum.value)/LN10))<1e-6","value":[]},"value":[1,2]},"gridWidth":{"condition":{"test":"abs(log(datum.value)/LN10-round(log(datum.value)/LN10))<1e-6","value":1.8},"value":0.8}}}
 },
 "layer":[
  {"mark":{"type":"line","strokeWidth":1.5},"encoding":{
    "stroke":{"field":"s","type":"nominal","legend":null},
    "strokeDash":{"field":"s","type":"nominal","legend":null}}},
  {"mark":{"type":"point","opacity":1,"strokeWidth":1.4},"encoding":{
    "shape":{"field":"s","type":"nominal","legend":null},
    "stroke":{"field":"s","type":"nominal","legend":null},
    "fill":{"field":"s","type":"nominal","legend":null},
    "size":{"field":"s","type":"nominal","legend":null}}}
 ]
},
{
 "width":226,"height":146,"title":"Cartesian, PHS","data":{"name":"p3"},
 "encoding":{
  "x":{"field":"n","type":"quantitative","scale":{"type":"log","domain":[8,27],"nice":false,"zero":false},"axis":{"title":"∛N","titleFontStyle":"italic","values":[9,10,15,20,25],"labelExpr":"datum.value>=10 ? format(datum.value,'d') : ''","grid":true,"gridColor":"#a8a8a8","gridDash":[1,2],"gridWidth":0.8,"tickSize":-4,"labelPadding":15,"titlePadding":0}},
  "y":{"field":"v","type":"quantitative","scale":{"type":"log","domain":[10,10000000],"nice":false},"axis":{"title":"κ₁(B)","titleFontStyle":"italic","titlePadding":4,"tickCount":50,"tickSize":-3,"tickWidth":0.8,"labelPadding":7,"labelExpr":"abs(log(datum.value)/LN10-round(log(datum.value)/LN10))<1e-6 ? '10'+['⁻⁶','⁻⁵','⁻⁴','⁻³','⁻²','⁻¹','⁰','¹','²','³','⁴','⁵','⁶','⁷','⁸','⁹','¹⁰','¹¹','¹²','¹³','¹⁴','¹⁵'][round(log(datum.value)/LN10)+6] : ''","grid":true,"gridColor":{"condition":{"test":"abs(log(datum.value)/LN10-round(log(datum.value)/LN10))<1e-6","value":"#dcdcdc"},"value":"#c4c4c4"},"gridDash":{"condition":{"test":"abs(log(datum.value)/LN10-round(log(datum.value)/LN10))<1e-6","value":[]},"value":[1,2]},"gridWidth":{"condition":{"test":"abs(log(datum.value)/LN10-round(log(datum.value)/LN10))<1e-6","value":1.8},"value":0.8}}}
 },
 "layer":[
  {"mark":{"type":"line","strokeWidth":1.5},"encoding":{
    "stroke":{"field":"s","type":"nominal","legend":null},
    "strokeDash":{"field":"s","type":"nominal","legend":null}}},
  {"mark":{"type":"point","opacity":1,"strokeWidth":1.4},"encoding":{
    "shape":{"field":"s","type":"nominal","legend":null},
    "stroke":{"field":"s","type":"nominal","legend":null},
    "fill":{"field":"s","type":"nominal","legend":null},
    "size":{"field":"s","type":"nominal","legend":null}}}
 ]
}
],"spacing":22},
{"hconcat":[
{
 "width":215,"height":146,"title":"Halton, PHS","data":{"name":"p4"},
 "encoding":{
  "x":{"field":"n","type":"quantitative","scale":{"type":"log","domain":[8,27],"nice":false,"zero":false},"axis":{"title":"∛N","titleFontStyle":"italic","values":[9,10,15,20,25],"labelExpr":"datum.value>=10 ? format(datum.value,'d') : ''","grid":true,"gridColor":"#a8a8a8","gridDash":[1,2],"gridWidth":0.8,"tickSize":-4,"labelPadding":15,"titlePadding":0}},
  "y":{"field":"v","type":"quantitative","scale":{"type":"log","domain":[0.000001,0.1],"nice":false},"axis":{"title":"e₂","titleFontStyle":"italic","titlePadding":16,"tickCount":50,"tickSize":-3,"tickWidth":0.8,"labelPadding":7,"labelExpr":"abs(log(datum.value)/LN10-round(log(datum.value)/LN10))<1e-6 ? '10'+['⁻⁶','⁻⁵','⁻⁴','⁻³','⁻²','⁻¹','⁰','¹','²','³','⁴','⁵','⁶','⁷','⁸','⁹','¹⁰','¹¹','¹²','¹³','¹⁴','¹⁵'][round(log(datum.value)/LN10)+6] : ''","grid":true,"gridColor":{"condition":{"test":"abs(log(datum.value)/LN10-round(log(datum.value)/LN10))<1e-6","value":"#dcdcdc"},"value":"#c4c4c4"},"gridDash":{"condition":{"test":"abs(log(datum.value)/LN10-round(log(datum.value)/LN10))<1e-6","value":[]},"value":[1,2]},"gridWidth":{"condition":{"test":"abs(log(datum.value)/LN10-round(log(datum.value)/LN10))<1e-6","value":1.8},"value":0.8}}}
 },
 "layer":[
  {"mark":{"type":"line","strokeWidth":1.5},"encoding":{
    "stroke":{"field":"s","type":"nominal","legend":null},
    "strokeDash":{"field":"s","type":"nominal","legend":null}}},
  {"mark":{"type":"point","opacity":1,"strokeWidth":1.4},"encoding":{
    "shape":{"field":"s","type":"nominal","legend":null},
    "stroke":{"field":"s","type":"nominal","legend":null},
    "fill":{"field":"s","type":"nominal","legend":null},
    "size":{"field":"s","type":"nominal","legend":null}}}
 ]
},
{
 "width":215,"height":146,"title":"Halton, PHS","data":{"name":"p5"},
 "encoding":{
  "x":{"field":"n","type":"quantitative","scale":{"type":"log","domain":[8,27],"nice":false,"zero":false},"axis":{"title":"∛N","titleFontStyle":"italic","values":[9,10,15,20,25],"labelExpr":"datum.value>=10 ? format(datum.value,'d') : ''","grid":true,"gridColor":"#a8a8a8","gridDash":[1,2],"gridWidth":0.8,"tickSize":-4,"labelPadding":15,"titlePadding":0}},
  "y":{"field":"v","type":"quantitative","scale":{"type":"log","domain":[1000,1000000000000000],"nice":false},"axis":{"title":"maxⱼ κ₁(Ãⱼ)","titlePadding":10,"tickCount":50,"tickSize":-3,"tickWidth":0.8,"labelPadding":7,"labelExpr":"abs(log(datum.value)/LN10-round(log(datum.value)/LN10))<1e-6 && round(log(datum.value)/LN10)%2==1 ? '10'+['⁻⁶','⁻⁵','⁻⁴','⁻³','⁻²','⁻¹','⁰','¹','²','³','⁴','⁵','⁶','⁷','⁸','⁹','¹⁰','¹¹','¹²','¹³','¹⁴','¹⁵'][round(log(datum.value)/LN10)+6] : ''","grid":true,"gridColor":{"condition":{"test":"abs(log(datum.value)/LN10-round(log(datum.value)/LN10))<1e-6","value":"#dcdcdc"},"value":"#c4c4c4"},"gridDash":{"condition":{"test":"abs(log(datum.value)/LN10-round(log(datum.value)/LN10))<1e-6","value":[]},"value":[1,2]},"gridWidth":{"condition":{"test":"abs(log(datum.value)/LN10-round(log(datum.value)/LN10))<1e-6","value":1.8},"value":0.8}}}
 },
 "layer":[
  {"mark":{"type":"line","strokeWidth":1.5},"encoding":{
    "stroke":{"field":"s","type":"nominal","legend":null},
    "strokeDash":{"field":"s","type":"nominal","legend":null}}},
  {"mark":{"type":"point","opacity":1,"strokeWidth":1.4},"encoding":{
    "shape":{"field":"s","type":"nominal","legend":null},
    "stroke":{"field":"s","type":"nominal","legend":null},
    "fill":{"field":"s","type":"nominal","legend":null},
    "size":{"field":"s","type":"nominal","legend":null}}}
 ]
},
{
 "width":226,"height":146,"title":"Halton, PHS","data":{"name":"p6"},
 "encoding":{
  "x":{"field":"n","type":"quantitative","scale":{"type":"log","domain":[8,27],"nice":false,"zero":false},"axis":{"title":"∛N","titleFontStyle":"italic","values":[9,10,15,20,25],"labelExpr":"datum.value>=10 ? format(datum.value,'d') : ''","grid":true,"gridColor":"#a8a8a8","gridDash":[1,2],"gridWidth":0.8,"tickSize":-4,"labelPadding":15,"titlePadding":0}},
  "y":{"field":"v","type":"quantitative","scale":{"type":"log","domain":[10,10000000],"nice":false},"axis":{"title":"κ₁(B)","titleFontStyle":"italic","titlePadding":4,"tickCount":50,"tickSize":-3,"tickWidth":0.8,"labelPadding":7,"labelExpr":"abs(log(datum.value)/LN10-round(log(datum.value)/LN10))<1e-6 ? '10'+['⁻⁶','⁻⁵','⁻⁴','⁻³','⁻²','⁻¹','⁰','¹','²','³','⁴','⁵','⁶','⁷','⁸','⁹','¹⁰','¹¹','¹²','¹³','¹⁴','¹⁵'][round(log(datum.value)/LN10)+6] : ''","grid":true,"gridColor":{"condition":{"test":"abs(log(datum.value)/LN10-round(log(datum.value)/LN10))<1e-6","value":"#dcdcdc"},"value":"#c4c4c4"},"gridDash":{"condition":{"test":"abs(log(datum.value)/LN10-round(log(datum.value)/LN10))<1e-6","value":[]},"value":[1,2]},"gridWidth":{"condition":{"test":"abs(log(datum.value)/LN10-round(log(datum.value)/LN10))<1e-6","value":1.8},"value":0.8}}}
 },
 "layer":[
  {"mark":{"type":"line","strokeWidth":1.5},"encoding":{
    "stroke":{"field":"s","type":"nominal","legend":null},
    "strokeDash":{"field":"s","type":"nominal","legend":null}}},
  {"mark":{"type":"point","opacity":1,"strokeWidth":1.4},"encoding":{
    "shape":{"field":"s","type":"nominal","legend":null},
    "stroke":{"field":"s","type":"nominal","legend":null},
    "fill":{"field":"s","type":"nominal","legend":null},
    "size":{"field":"s","type":"nominal","legend":null}}}
 ]
}
],"spacing":22}
]}
]
}
